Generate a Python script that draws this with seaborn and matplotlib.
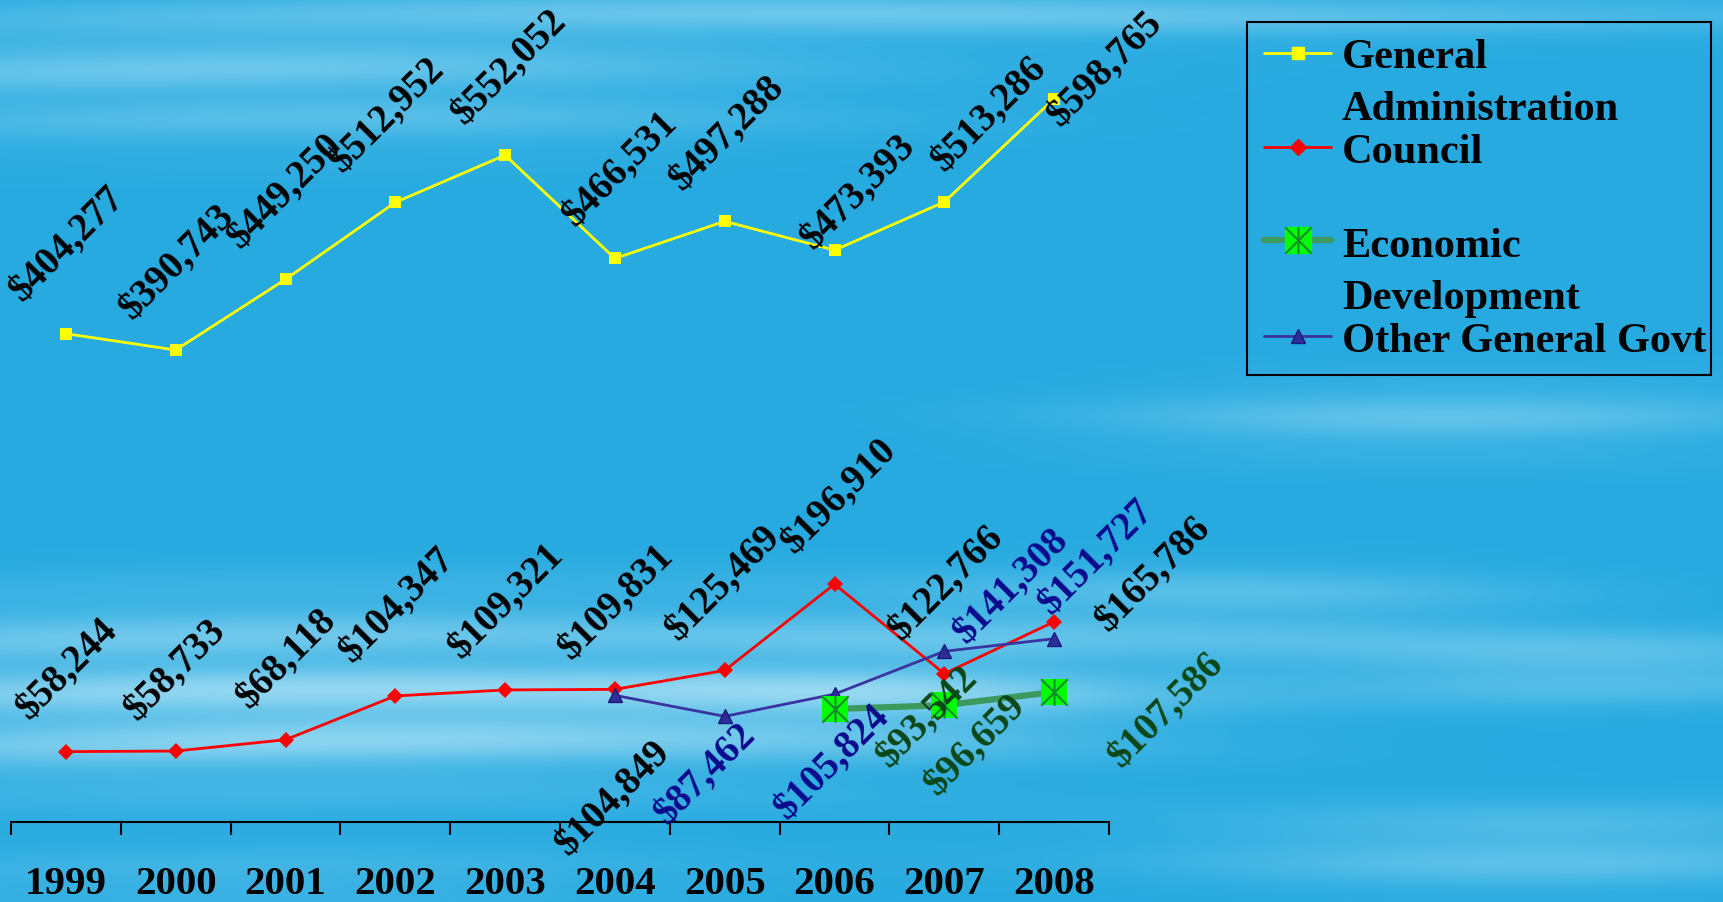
import numpy as np
import matplotlib
matplotlib.use("Agg")
import matplotlib.pyplot as plt
from matplotlib.lines import Line2D
from matplotlib.path import Path
from matplotlib.patches import Rectangle
import seaborn as sns

sns.set_style("white")
plt.rcParams["font.family"] = ["Liberation Serif", "DejaVu Serif"]
plt.rcParams["font.weight"] = "bold"

# data
years = [1999, 2000, 2001, 2002, 2003, 2004, 2005, 2006, 2007, 2008]
general_admin = [404277, 390743, 449250, 512952, 552052, 466531, 497288, 473393, 513286, 598765]
council = [58244, 58733, 68118, 104347, 109321, 109831, 125469, 196910, 122766, 165786]
econ_years = [2006, 2007, 2008]
econ_dev = [93542, 96659, 107586]
other_years = [2004, 2005, 2006, 2007, 2008]
other_govt = [104849, 87462, 105824, 141308, 151727]
series_names = ["General\nAdministration", "Council", "Economic\nDevelopment", "Other General Govt"]

# label offsets in points (dx, dy)
ga_off = [(1, 64), (1, 63), (0, 63), (-6, 63), (3, 63), (4, 64), (2, 63), (17, 42), (32, 63), (37, 21)]
council_off = [(1, 59), (0, 58), (1, 58), (1, 65), (1, 64), (1, 63), (-1, 63), (3, 63), (1, 65), (71, 34)]
other_off = [(-1, -74), (-14, -42), (-2, -49), (48, 47), (30, 59)]
econ_off = [(67, -6), (22, -29), (81, -13)]

BLUE_TXT = "#0a0a8c"
GREEN_TXT = "#0b4716"
other_txt = ["black", BLUE_TXT, BLUE_TXT, BLUE_TXT, BLUE_TXT]

fig = plt.figure(figsize=(17.23, 9.02), dpi=100)

# sky background
H, W = 902, 1723
yy, xx = np.mgrid[0:H, 0:W].astype(float)
deep = np.array([38, 170, 224]) / 255
light = np.array([160, 220, 243]) / 255


def blob(cy, sy, cx, sx, amp):
    return amp * np.exp(-((yy - cy) / sy) ** 2) * np.exp(-((xx - cx) / sx) ** 2)


glow = (blob(85, 55, 250, 550, 0.65)
        + blob(15, 28, 1000, 900, 0.50)
        + blob(695, 85, 300, 650, 1.00)
        + blob(680, 60, 900, 250, 0.45)
        + blob(610, 40, 1250, 300, 0.50)
        + blob(420, 40, 1450, 350, 0.45)
        + blob(665, 35, 1600, 300, 0.55)
        + blob(850, 45, 1550, 350, 0.50)
        + blob(880, 35, 250, 450, 0.25))
streak = (0.78 + 0.22 * np.sin(yy / 9.0 + 0.7 * np.sin(xx / 310.0))
          + 0.12 * np.sin(yy / 23.0 + xx / 520.0))
lum = np.clip(glow * streak, 0, 1)[..., None]
bg = deep + (light - deep) * lum
bg_ax = fig.add_axes([0, 0, 1, 1], zorder=-10)
bg_ax.imshow(bg, aspect="auto", interpolation="bilinear")
bg_ax.axis("off")

ax = fig.add_axes([11 / 1723, 80 / 902, 1098 / 1723, 822 / 902])
ax.set_facecolor("none")

sns.lineplot(x=years, y=general_admin, ax=ax, color="#ffff00", linewidth=2,
             marker="s", markersize=8.5, markeredgewidth=0, markerfacecolor="#ffff00")
sns.lineplot(x=years, y=council, ax=ax, color="#ff0000", linewidth=2,
             marker="D", markersize=8, markeredgewidth=0, markerfacecolor="#ff0000")
sns.lineplot(x=other_years, y=other_govt, ax=ax, color="#3a34a0", linewidth=2,
             marker="^", markersize=10, markeredgewidth=1, markerfacecolor="#2e2e99",
             markeredgecolor="#1a1a80")
sns.lineplot(x=econ_years, y=econ_dev, ax=ax, color="#3c9a5f", linewidth=4.5,
             marker="s", markersize=19, markeredgewidth=0, markerfacecolor="#00ff00")
star = Path([(0, -1), (0, 1), (-1, -1), (1, 1), (-1, 1), (1, -1)],
            [Path.MOVETO, Path.LINETO] * 3)
ax.plot(econ_years, econ_dev, linestyle="none", marker=star, markersize=19,
        markerfacecolor="none", markeredgecolor="#138a2c", markeredgewidth=1.5)


def put_labels(xs, vals, offs, colors):
    for x, v, (dx, dy), c in zip(xs, vals, offs, colors):
        ax.annotate(f"${v:,}", (x, v), xytext=(dx, dy), textcoords="offset points",
                    ha="center", va="center", rotation=45, rotation_mode="anchor",
                    fontsize=28, fontweight="bold", color=c, annotation_clip=False)


put_labels(years, general_admin, ga_off, ["black"] * 10)
put_labels(years, council, council_off, ["black"] * 10)
put_labels(other_years, other_govt, other_off, other_txt)
put_labels(econ_years, econ_dev, econ_off, [GREEN_TXT] * 3)

ax.set_xlim(1998.5, 2008.5)
ax.set_ylim(0, 680500)
ax.set_xticks(years)
ax.set_xticklabels([str(y) for y in years], fontsize=29.5, fontweight="bold")
ax.set_xticks(np.arange(1998.5, 2009, 1.0), minor=True)
ax.tick_params(axis="x", which="major", length=0, pad=32, colors="black")
ax.tick_params(axis="x", which="minor", length=9, width=1.5, direction="out",
               color="black", bottom=True)
ax.set_yticks([])
for side in ["left", "right", "top"]:
    ax.spines[side].set_visible(False)
ax.spines["bottom"].set_color("black")
ax.spines["bottom"].set_linewidth(1.5)
ax.set_xlabel("")
ax.set_ylabel("")


# legend drawn by hand so handles sit on the first text line
def fx(px):
    return px / 1723


def fy(py):
    return 1 - py / 902


fig.add_artist(Rectangle((fx(1247), fy(375)), fx(1711) - fx(1247), fy(22) - fy(375),
                         transform=fig.transFigure, fill=False, edgecolor="black",
                         linewidth=1.5))
handles = [
    dict(color="#ffff00", lw=2, marker="s", ms=8.5, mfc="#ffff00", mec="#ffff00"),
    dict(color="#ff0000", lw=2, marker="D", ms=8, mfc="#ff0000", mec="#ff0000"),
    dict(color="#3c9a5f", lw=4.5, marker="s", ms=19, mfc="#00ff00", mec="#00ff00"),
    dict(color="#3a34a0", lw=2, marker="^", ms=10, mfc="#2e2e99", mec="#1a1a80"),
]
handle_y = [53, 147, 240, 336]
base_y = [68, 163, 257, 352]
for name, h, hy, by in zip(series_names, handles, handle_y, base_y):
    fig.add_artist(Line2D([fx(1264), fx(1331)], [fy(hy), fy(hy)],
                          transform=fig.transFigure, color=h["color"], lw=h["lw"],
                          solid_capstyle="round"))
    fig.add_artist(Line2D([fx(1297.5)], [fy(hy)], transform=fig.transFigure,
                          linestyle="none", marker=h["marker"], markersize=h["ms"],
                          markerfacecolor=h["mfc"], markeredgecolor=h["mec"]))
    for i, line in enumerate(name.split("\n")):
        fig.text(fx(1342), fy(by + 52 * i), line, fontsize=30.5, fontweight="bold",
                 ha="left", va="baseline", color="black")
fig.add_artist(Line2D([fx(1297.5)], [fy(240)], transform=fig.transFigure,
                      linestyle="none", marker=star, markersize=19,
                      markerfacecolor="none", markeredgecolor="#138a2c",
                      markeredgewidth=1.5))

fig.savefig("out.png", dpi=100)
